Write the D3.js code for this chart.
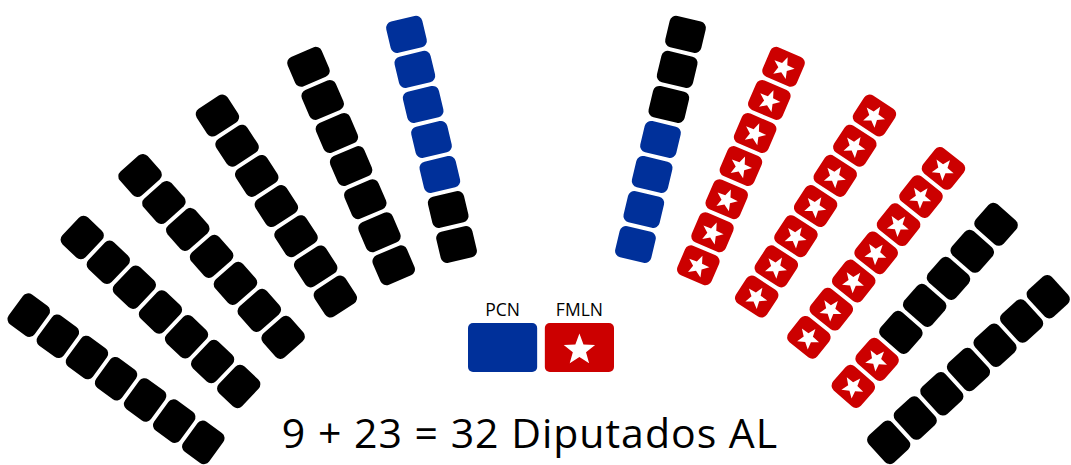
<!DOCTYPE html>
<html>
<head>
<meta charset="utf-8">
<script src="https://cdn.jsdelivr.net/npm/d3@7"></script>
<style>
	html, body { margin: 0; padding: 0; background: #fff; }
	svg { display: block; }
	text { font-family: "Open Sans", Lato, sans-serif; fill: #000; }
</style>
</head>
<body>
<div id="chart"></div>
<script>
// parties and colours
var parties = ['Otros', 'PCN', 'FMLN']
var partyColors = ['#000000', '#00309a', '#cc0000']

// one entry per spoke, left to right; each run is [party, seats], inner seat first
var spokes = [
	[['Otros', 7]],
	[['Otros', 7]],
	[['Otros', 7]],
	[['Otros', 7]],
	[['Otros', 7]],
	[['Otros', 2], ['PCN', 5]],
	[['PCN', 4], ['Otros', 3]],
	[['FMLN', 7]],
	[['FMLN', 7]],
	[['FMLN', 7]],
	[['FMLN', 2], ['Otros', 5]],
	[['Otros', 7]]
]

var legendParties = ['PCN', 'FMLN']
var title = '9 + 23 = 32 Diputados AL'

var width = 1071
var height = 465
var cx = 546
var cy = 620
var seatW = 37
var seatH = 32
var seatStep = 36

var svg = d3.select('#chart').append('svg')
	.attr('width', width)
	.attr('height', height)

var color = d3.scaleOrdinal().domain(parties).range(partyColors)

// spoke offset from vertical (deg), per spoke counted out from the middle gap
var offsetScale = d3.scaleLinear().domain([0, 5]).range([13.4, 62.6])
// the lower spokes lean steeper than the radius (a bit more on the right)
var tiltLeft = d3.scaleLinear().domain([40, 52.9, 62.6]).range([0, 6.4, 8.7]).clamp(true)
var tiltRight = d3.scaleLinear().domain([33, 43.2, 52.9, 62.6]).range([0, 4.5, 11.5, 15]).clamp(true)
// seat index -> distance from the centre
var radius = d3.scaleLinear().domain([0, 1]).range([386, 386 + seatStep])

var half = spokes.length / 2
var seats = []
spokes.forEach(function(runs, i) {
	var left = i < half
	var k = left ? half - 1 - i : i - half
	var off = offsetScale(k)
	var side = left ? 1 : -1
	var tilt = left ? tiltLeft(off) : tiltRight(off)
	var pos = (90 + side * off) * Math.PI / 180
	var dir = (90 + side * (off - tilt)) * Math.PI / 180
	// angles measured from +x, y up
	var x0 = cx + radius(0) * Math.cos(pos)
	var y0 = cy - radius(0) * Math.sin(pos)
	var ux = Math.cos(dir)
	var uy = -Math.sin(dir)
	var j = 0
	runs.forEach(function(run) {
		for (var n = 0; n < run[1]; n++) {
			var d = radius(j) - radius(0)
			seats.push({
				party: run[0],
				x: x0 + ux * d,
				y: y0 + uy * d,
				rot: Math.atan2(uy, ux) * 180 / Math.PI + 90
			})
			j++
		}
	})
})

function starPath(r) {
	var pts = []
	for (var i = 0; i < 10; i++) {
		var a = -Math.PI / 2 + i * Math.PI / 5
		var rr = i % 2 ? r * 0.42 : r
		pts.push([rr * Math.cos(a), rr * Math.sin(a)])
	}
	return d3.line()(pts) + 'Z'
}

var seat = svg.append('g').attr('class', 'seats')
	.selectAll('.seat')
	.data(seats)
	.enter().append('g')
		.attr('class', 'seat')
		.attr('transform', function(d) {
			return 'translate(' + d.x + ',' + d.y + ') rotate(' + d.rot + ')'
		})

seat.append('rect')
	.attr('x', -seatW / 2)
	.attr('y', -seatH / 2)
	.attr('width', seatW)
	.attr('height', seatH)
	.attr('rx', 6.5)
	.attr('fill', function(d) { return color(d.party) })

seat.filter(function(d) { return d.party === 'FMLN' })
	.append('path')
	.attr('d', starPath(11.5))
	.attr('transform', 'translate(0,1)')
	.attr('fill', '#fff')

// legend
var legendX = d3.scaleBand().domain(legendParties).range([468, 614]).paddingInner(0.1)

var legend = svg.append('g').attr('class', 'legend')
	.selectAll('g')
	.data(legendParties)
	.enter().append('g')
		.attr('transform', function(d) { return 'translate(' + legendX(d) + ',323)' })

legend.append('rect')
	.attr('width', legendX.bandwidth())
	.attr('height', 49)
	.attr('rx', 5)
	.attr('fill', function(d) { return color(d) })

legend.filter(function(d) { return d === 'FMLN' })
	.append('path')
	.attr('d', starPath(16.5))
	.attr('transform', 'translate(' + legendX.bandwidth() / 2 + ',27)')
	.attr('fill', '#fff')

legend.append('text')
	.attr('x', legendX.bandwidth() / 2)
	.attr('y', -7)
	.attr('text-anchor', 'middle')
	.style('font-size', '17.5px')
	.text(function(d) { return d })

svg.append('text')
	.attr('x', 530)
	.attr('y', 448)
	.attr('text-anchor', 'middle')
	.style('font-size', '41px')
	.style('letter-spacing', '1px')
	.text(title)
</script>
</body>
</html>
